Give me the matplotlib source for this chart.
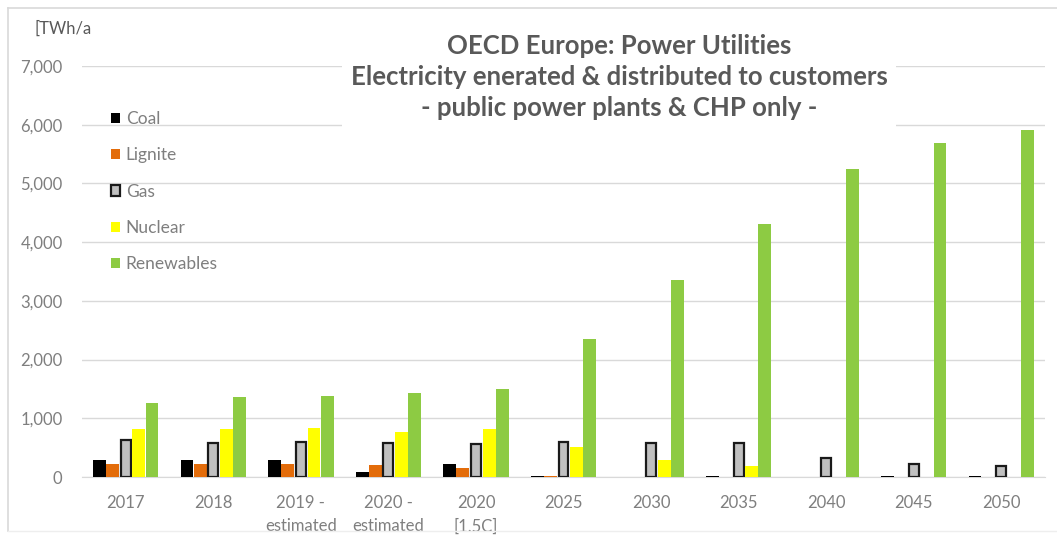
import matplotlib
matplotlib.use("Agg")
import matplotlib.pyplot as plt
import numpy as np
from matplotlib.lines import Line2D

categories = ["2017", "2018", "2019 -\nestimated", "2020 -\nestimated", "2020\n[1.5C]",
              "2025", "2030", "2035", "2040", "2045", "2050"]
coal = [295, 295, 295, 85, 216, 15, 0, 15, 0, 15, 15]
lignite = [227, 216, 227, 210, 153, 10, 0, 0, 0, 0, 0]
gas = [625, 574, 591, 574, 562, 594, 571, 571, 326, 217, 183]
nuclear = [812, 812, 840, 772, 812, 503, 297, 183, 0, 0, 0]
renewables = [1265, 1358, 1380, 1436, 1499, 2346, 3356, 4315, 5242, 5685, 5911]
series_names = ["Coal", "Lignite", "Gas", "Nuclear", "Renewables"]
yticks = [0, 1000, 2000, 3000, 4000, 5000, 6000, 7000]

plt.rcParams['font.family'] = ['Lato', 'DejaVu Sans']

W, H = 1057, 540
fig = plt.figure(figsize=(W / 100, H / 100), dpi=100)
ax = fig.add_axes([82 / W, 1 - 477 / H, (1045 - 82) / W, (477 - 66) / H])

x = np.arange(len(categories))
w = 0.15
series = [coal, lignite, gas, nuclear, renewables]
colors = ["#000000", "#E36C0A", "#C0C0C0", "#FFFF00", "#8DCB43"]
edges = ["none", "none", "#1a1a1a", "none", "none"]
lws = [0, 0, 1.6, 0, 0]
handles = []
for i, (vals, c, ec, lw, name) in enumerate(zip(series, colors, edges, lws, series_names)):
    b = ax.bar(x + (i - 2) * w, vals, width=w * 0.98 if lw == 0 else w * 0.75,
               color=c, edgecolor=ec, linewidth=lw, label=name, zorder=3)
    handles.append(b)

ax.set_xlim(-0.5, len(categories) - 0.5)
ax.set_ylim(0, 7000)
ax.set_yticks(yticks)
ax.set_yticklabels([f"{v:,}" for v in yticks])
ax.set_xticks(x)
ax.set_xticklabels(categories, linespacing=1.55)
ax.grid(axis='y', color='#d9d9d9', linewidth=1.0, zorder=0)
ax.set_axisbelow(True)
for s in ["top", "right", "left"]:
    ax.spines[s].set_visible(False)
ax.spines["bottom"].set_color('#d9d9d9')
ax.tick_params(axis='both', length=0, labelcolor='#7f7f7f', labelsize=12)
ax.tick_params(axis='y', pad=14)
ax.tick_params(axis='x', pad=13)

# legend
leg = ax.legend(handles=handles, loc='upper left',
                bbox_to_anchor=(104 / W, 1 - 104 / H), bbox_transform=fig.transFigure,
                frameon=False, fontsize=12.5, labelcolor='#7f7f7f',
                handlelength=0.55, handleheight=0.55, handletextpad=0.3,
                labelspacing=1.17, borderaxespad=0)

# unit label
fig.text(35 / W, 1 - 29 / H, "[TWh/a", fontsize=12, color='#595959',
         ha='left', va='center')

# title with white background
title = ("OECD Europe: Power Utilities\n"
         "Electricity enerated & distributed to customers\n"
         "- public power plants & CHP only -")
fig.text(619 / W, 1 - 77 / H, title, fontsize=18.5, fontweight='bold', color='#595959',
         ha='center', va='center', linespacing=1.33,
         bbox=dict(facecolor='white', edgecolor='none', pad=6), zorder=10)

# figure border
fig.add_artist(Line2D([8 / W, 1.0], [1 - 8 / H, 1 - 8 / H], transform=fig.transFigure,
                      color='#d9d9d9', linewidth=1.2))
fig.add_artist(Line2D([8 / W, 8 / W], [1 - 8 / H, 1 - 531 / H], transform=fig.transFigure,
                      color='#d9d9d9', linewidth=1.2))
fig.add_artist(Line2D([8 / W, 1.0], [1 - 531 / H, 1 - 531 / H], transform=fig.transFigure,
                      color='#eeeeee', linewidth=1.0))

fig.savefig("out.png", dpi=100)
